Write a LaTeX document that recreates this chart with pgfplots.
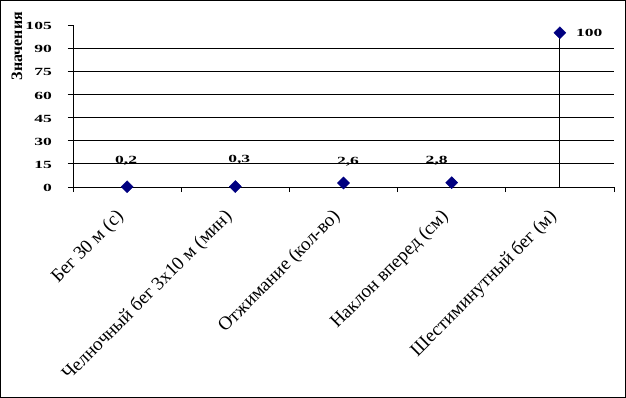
\documentclass[border=0pt]{standalone}
\usepackage{fontspec}
\setmainfont{Liberation Serif}
\newfontfamily\numfont{Liberation Serif}[FakeStretch=1.6]
\usepackage{pgfplots}
\usepackage{pgfplotstable}
\pgfplotsset{compat=1.18}
\definecolor{navy}{HTML}{000080}
\pgfplotstableread{
x y dx dy
0 0.2 -1 22.7
1 0.3 4 24.2
2 2.6 4.5 18
3 2.8 -15 18.7
}\small
\begin{document}
\begin{tikzpicture}
\useasboundingbox (-73bp,-211bp) rectangle (553bp,187bp);
\draw[line width=0.8bp] (-72.6bp,-210.6bp) rectangle (552.6bp,186.6bp);
\begin{axis}[
  at={(0,0)}, anchor=south west,
  scale only axis, width=541bp, height=162bp,
  xmin=-0.5, xmax=4.5, ymin=0, ymax=105,
  axis x line*=bottom, axis y line*=left,
  axis line style={line width=0.8bp},
  every tick/.style={black, line width=0.8bp},
  tick align=outside, major tick length=5bp,
  ytick={0,15,...,105},
  extra y ticks={15,30,...,90},
  extra y tick labels={},
  extra y tick style={grid=major},
  major grid style={black, line width=0.8bp},
  xtick={-0.5,0.5,...,4.5},
  xticklabels={},
  extra x ticks={0,1,2,3,4},
  extra x tick labels={Бег 30 м (с),Челночный бег 3х10 м (мин),Отжимание (кол-во),Наклон вперед (см),Шестиминутный бег (м)},
  extra x tick style={major tick length=0pt},
  xticklabel style={font=\fontsize{19}{21}\selectfont, xshift=-6bp, yshift=-27bp, rotate=45, anchor=east, inner sep=0pt},
  yticklabel style={font=\numfont\bfseries\fontsize{11}{13}\selectfont, inner sep=0pt, xshift=-16bp, yshift=-1bp},
  /pgf/number format/assume math mode=true,
  /pgf/number format/use comma,
  ylabel={Значения},
  ylabel style={font=\bfseries\fontsize{16}{18}\selectfont, at={(rel axis cs:-0.1035,0.870)}, anchor=center, inner sep=0pt},
  clip=false,
]
\addplot[ycomb, black, line width=0.8bp, mark=none] coordinates {(4,100)};
\addplot[only marks, mark=square*, mark size=4.25bp, mark options={rotate=45, fill=navy, draw=navy},
  nodes near coords, point meta=explicit,
  visualization depends on={\thisrow{dx}\as\dx},
  visualization depends on={\thisrow{dy}\as\dy},
  every node near coord/.style={font=\numfont\bfseries\fontsize{11}{13}\selectfont, anchor=base, inner sep=0pt, xshift=\dx bp, yshift=\dy bp},
] table[x=x, y=y, meta=y] \small;
\addplot[only marks, mark=square*, mark size=4.25bp, mark options={rotate=45, fill=navy, draw=navy},
  nodes near coords, point meta=explicit,
  every node near coord/.style={font=\numfont\bfseries\fontsize{11}{13}\selectfont, anchor=base west, inner sep=0pt, xshift=16bp, yshift=-3.3bp},
] coordinates {(4,100) [100]};
\end{axis}
\end{tikzpicture}
\end{document}
